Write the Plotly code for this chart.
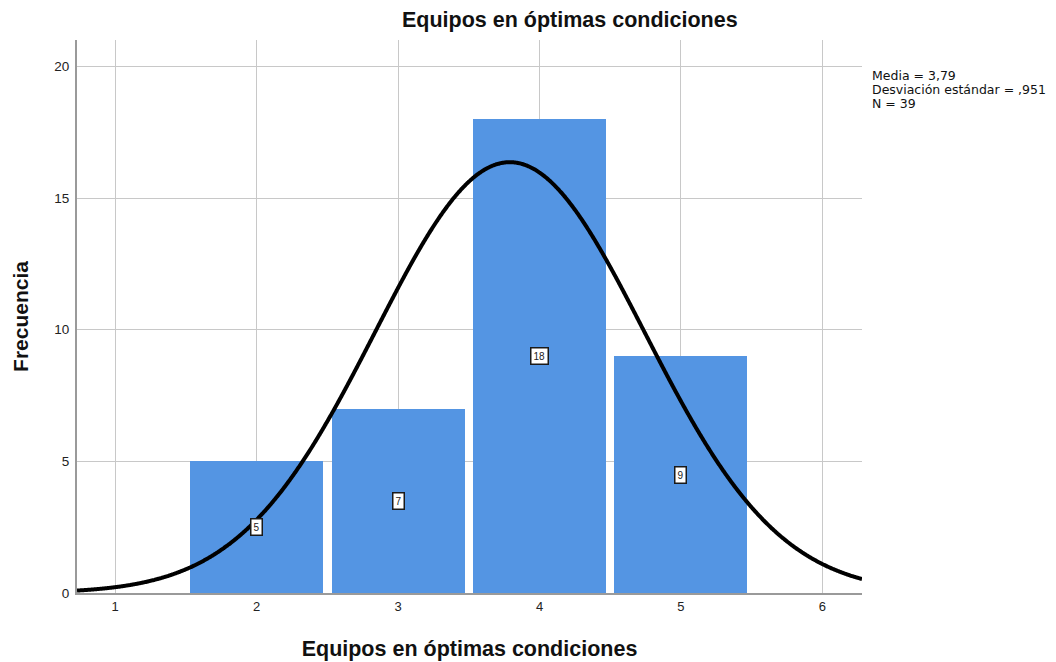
import numpy as np
import plotly.graph_objects as go

# datos del histograma
categorias = [2, 3, 4, 5]
frecuencias = [5, 7, 18, 9]
media = 3.79
desv = 0.951
n = 39
ticks_x = [1, 2, 3, 4, 5, 6]
ticks_y = [0, 5, 10, 15, 20]
estadisticos = ['Media = 3,79', 'Desviación estándar = ,951', 'N = 39']

fig = go.Figure()

# barras
fig.add_trace(go.Bar(
    x=categorias,
    y=frecuencias,
    width=0.94,
    marker=dict(color='#5495E3', line=dict(width=0)),
    hoverinfo='x+y',
    showlegend=False
))

# curva normal ajustada (ancho de intervalo = 1)
xs = np.linspace(0.73, 6.28, 800)
ys = n / (desv * np.sqrt(2 * np.pi)) * np.exp(-0.5 * ((xs - media) / desv) ** 2)
fig.add_trace(go.Scatter(
    x=xs, y=ys, mode='lines',
    line=dict(color='black', width=4, shape='spline'),
    hoverinfo='skip', showlegend=False
))

# etiquetas de las barras
for c, f in zip(categorias, frecuencias):
    fig.add_annotation(
        x=c, y=f / 2, text=str(f), showarrow=False,
        font=dict(size=10, color='#222'),
        bgcolor='white', bordercolor='#1a1a1a', borderwidth=1.5, borderpad=2
    )

# estadísticos (una anotación por línea)
for i, t in enumerate(estadisticos):
    fig.add_annotation(
        xref='paper', yref='paper', x=1.0, y=0.9355 - i * 0.0255,
        xanchor='left', yanchor='middle', showarrow=False, xshift=8,
        text=t, font=dict(size=12.5, color='#111', family='DejaVu Sans, Arial, sans-serif')
    )

fig.update_layout(
    width=1056, height=662,
    margin=dict(l=64, r=202, t=32, b=77),
    paper_bgcolor='white', plot_bgcolor='white',
    font=dict(family='Liberation Sans, Arial, sans-serif', color='#222'),
    title=dict(
        text='<b>Equipos en óptimas condiciones</b>',
        x=0.532, xanchor='center', y=0.982, yanchor='middle',
        font=dict(size=21.5, color='#111')
    ),
    bargap=0,
    xaxis=dict(
        range=[0.73, 6.28], tickvals=ticks_x,
        showgrid=True, gridcolor='#c8c8c8', gridwidth=1,
        showline=True, linecolor='#9a9a9a', linewidth=2,
        zeroline=False, ticks='', tickfont=dict(size=13, color='#222'),
        title=dict(text='<b>Equipos en óptimas condiciones</b>', font=dict(size=21.5, color='#111'), standoff=28)
    ),
    yaxis=dict(
        range=[0, 21], tickvals=ticks_y,
        showgrid=True, gridcolor='#c8c8c8', gridwidth=1,
        showline=True, linecolor='#9a9a9a', linewidth=2,
        zeroline=False, ticks='', ticklabelstandoff=3,
        tickfont=dict(size=13.5, color='#222'),
        title=dict(text='<b>Frecuencia</b>', font=dict(size=21, color='#111'), standoff=20)
    )
)

fig.write_html("out.html")
